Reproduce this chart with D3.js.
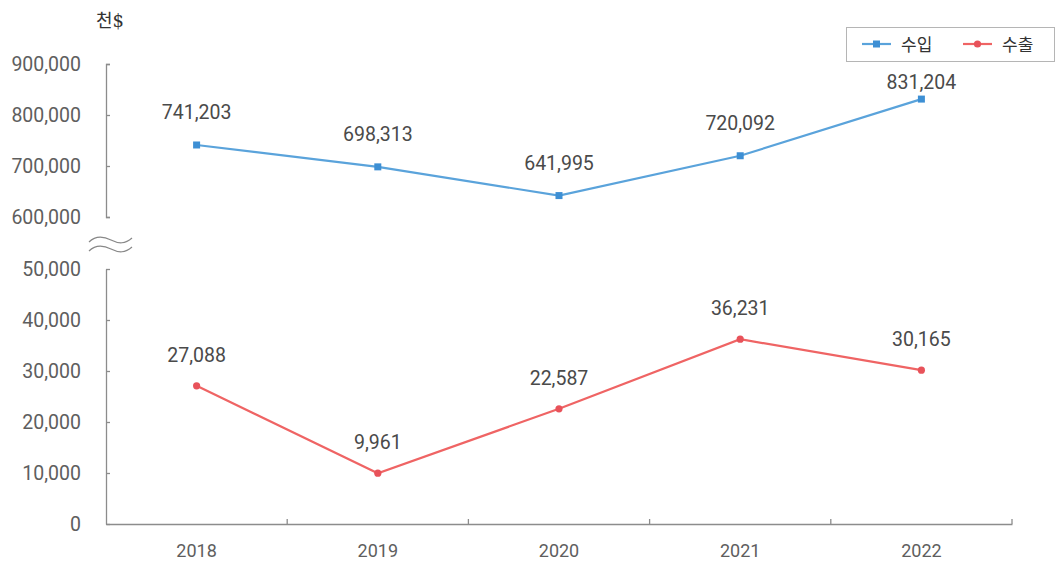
<!DOCTYPE html>
<html><head><meta charset="utf-8">
<script src="https://cdn.jsdelivr.net/npm/d3@7"></script>
<style>
body{margin:0;background:#fff;}
text{font-family:Roboto,"Noto Sans CJK KR",sans-serif;}
</style></head>
<body>
<svg id="c" width="1057" height="564"></svg>
<script>
const years = ["2018","2019","2020","2021","2022"];
const imports = [741203, 698313, 641995, 720092, 831204];
const exports = [27088, 9961, 22587, 36231, 30165];
const topTicks = [600000, 700000, 800000, 900000];
const botTicks = [0, 10000, 20000, 30000, 40000, 50000];
const seriesNames = ["수입", "수출"];
const unitLabel = "천$";

const svg = d3.select("#c");
const axisColor = "#8c8c8c", textColor = "#5e5e5e";
const blue = "#5aa3db", red = "#ef6464";
const x0 = 106, x1 = 1012;

const x = d3.scaleBand().domain(years).range([x0, x1]);
const yTop = d3.scaleLinear().domain([600000, 900000]).range([217, 64]);
const yBot = d3.scaleLinear().domain([0, 50000]).range([524, 269]);
const fmt = d3.format(",");

function styleAxis(g, fs){
  g.selectAll("path,line").attr("stroke", axisColor).attr("stroke-width",1.3);
  g.selectAll("text").attr("fill", textColor).attr("font-size", fs);
}
svg.append("g").attr("transform",`translate(${x0},0)`)
  .call(d3.axisLeft(yTop).tickValues(topTicks).tickFormat(fmt).tickSizeInner(-4).tickSizeOuter(-4).tickPadding(25))
  .call(g=>styleAxis(g,19.5));
svg.append("g").attr("transform",`translate(${x0},0)`)
  .call(d3.axisLeft(yBot).tickValues(botTicks).tickFormat(fmt).tickSizeInner(-4).tickSizeOuter(0).tickPadding(25))
  .call(g=>styleAxis(g,19.5));

// x axis
const gx = svg.append("g").attr("transform",`translate(0,${yBot(0)})`)
  .call(d3.axisBottom(x).tickSize(0).tickPadding(20))
  .call(g=>styleAxis(g,18));
const bounds = years.map((y,i)=> x(y)).slice(1).concat([x1]);
gx.selectAll(".bt").data(bounds).enter().append("line")
  .attr("x1",d=>d).attr("x2",d=>d).attr("y1",0).attr("y2",-5)
  .attr("stroke",axisColor).attr("stroke-width",1.3);

// axis break symbol
const bg = svg.append("g").attr("fill","none").attr("stroke","#888").attr("stroke-width",1.2);
[240, 249].forEach(yy=>{
  bg.append("path").attr("d",`M89,${yy+2} C95,${yy-4} 103,${yy-4} 111,${yy} S125,${yy+4} 132,${yy-2}`);
});

// unit label
svg.append("text").attr("x",96).attr("y",27).attr("fill","#333")
  .attr("font-size",18).style("font-family","'DejaVu Serif','Noto Sans CJK KR',serif").text(unitLabel);

const cx = d => x(d) + x.bandwidth()/2;
const line = (ys, scale) => d3.line().x((d,i)=>cx(years[i])).y(d=>scale(d))(ys);

// imports
svg.append("path").attr("d", line(imports, yTop)).attr("fill","none").attr("stroke",blue).attr("stroke-width",2.2);
svg.selectAll(".imk").data(imports).enter().append("rect")
  .attr("x",(d,i)=>cx(years[i])-3.5).attr("y",d=>yTop(d)-3.5).attr("width",7).attr("height",7).attr("fill","#3d8fd4");
svg.selectAll(".iml").data(imports).enter().append("text")
  .attr("x",(d,i)=>cx(years[i])).attr("y",d=>Math.max(yTop(d)-26, 89))
  .attr("text-anchor","middle").attr("fill","#4a4a4a").attr("font-size",19.5).text(d=>fmt(d));

// exports
svg.append("path").attr("d", line(exports, yBot)).attr("fill","none").attr("stroke",red).attr("stroke-width",2.2);
svg.selectAll(".exk").data(exports).enter().append("circle")
  .attr("cx",(d,i)=>cx(years[i])).attr("cy",d=>yBot(d)).attr("r",3.6).attr("fill","#e8525a");
svg.selectAll(".exl").data(exports).enter().append("text")
  .attr("x",(d,i)=>cx(years[i])).attr("y",d=>yBot(d)-24)
  .attr("text-anchor","middle").attr("fill","#4a4a4a").attr("font-size",19.5).text(d=>fmt(d));

// legend
const lg = svg.append("g");
lg.append("rect").attr("x",846.5).attr("y",27.5).attr("width",208).attr("height",34)
  .attr("fill","#fff").attr("stroke","#b5b5b5");
const lItems = [{n:seriesNames[0], c:blue, m:"#3d8fd4", sq:true, x:862},{n:seriesNames[1], c:red, m:"#e8525a", sq:false, x:963}];
lItems.forEach(it=>{
  lg.append("line").attr("x1",it.x).attr("x2",it.x+29).attr("y1",44).attr("y2",44).attr("stroke",it.c).attr("stroke-width",2.2);
  if(it.sq) lg.append("rect").attr("x",it.x+11).attr("y",40.5).attr("width",7).attr("height",7).attr("fill",it.m);
  else lg.append("circle").attr("cx",it.x+14.5).attr("cy",44).attr("r",3.6).attr("fill",it.m);
  lg.append("text").attr("x",it.x+39).attr("y",50.5).attr("fill","#333").attr("font-size",17)
    .style("font-family","'Noto Sans CJK KR',sans-serif").text(it.n);
});
</script>
</body></html>
